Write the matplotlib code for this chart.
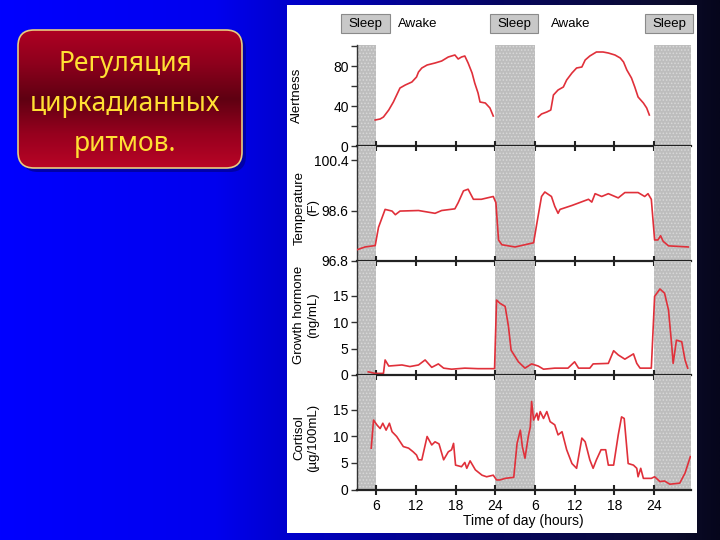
import numpy as np
import matplotlib
matplotlib.use('Agg')
import matplotlib.pyplot as plt
from matplotlib.patches import FancyBboxPatch, Rectangle

# ---------------- data ----------------
title_lines = ["Регуляция", "циркадианных", "ритмов."]
phase_labels = ["Sleep", "Awake", "Sleep", "Awake", "Sleep"]
sleep_spans = [(3.1, 6.0), (24.0, 30.0), (48.0, 53.6)]
xticks = [6, 12, 18, 24, 30, 36, 42, 48]
xtick_labels = ['6', '12', '18', '24', '6', '12', '18', '24']
xlabel = "Time of day (hours)"
ylabels = ["Alertness", "Temperature\n(F)", "Growth hormone\n(ng/mL)", "Cortisol\n(µg/100mL)"]

alert_h1 = [5.85, 6.6, 7.1, 7.9, 8.6, 9.1, 9.6, 10.4, 11.4, 12.1, 12.4, 12.9, 13.7, 14.9,
            15.9, 16.9, 17.9, 18.4, 18.9, 19.4, 19.9, 20.5, 20.9, 21.4, 21.7, 22.5, 23.2, 23.7]
alert_v1 = [26, 27, 29, 36, 44, 51, 58, 61, 64, 69, 74, 78, 81, 83,
            85, 89, 91, 87, 89, 90, 83, 73, 63, 53, 44, 43, 38, 30]
alert_h2 = [30.5, 31.0, 31.8, 32.4, 32.8, 33.5, 34.3, 34.8, 35.6, 36.3, 37.1, 37.6, 38.3,
            39.3, 40.3, 41.1, 42.1, 42.9, 43.4, 43.9, 44.6, 45.1, 45.6, 46.4, 46.9, 47.3]
alert_v2 = [29, 32, 34, 36, 51, 56, 59, 66, 73, 78, 79, 86, 90,
            94, 94, 93, 91, 88, 84, 76, 68, 59, 49, 43, 38, 31]

temp_h = [3.1, 4.3, 5.85, 6.35, 7.35, 8.4, 8.9, 9.6, 12.4, 14.9, 15.9, 17.9, 18.4, 19.2,
          19.9, 20.7, 21.9, 23.7, 24.1, 24.5, 25.0, 27.0, 29.8, 30.3, 31.0, 31.5, 32.5,
          33.0, 33.5, 33.8, 35.6, 38.1, 38.6, 39.1, 40.1, 41.1, 42.6, 43.6, 45.6, 46.6,
          47.1, 47.6, 48.1, 48.6, 49.0, 49.4, 50.2, 53.2]
temp_v = [97.2, 97.3, 97.35, 98.0, 98.64, 98.58, 98.45, 98.58, 98.6, 98.5, 98.6, 98.66,
          98.88, 99.3, 99.36, 99.0, 99.0, 99.1, 98.88, 97.55, 97.38, 97.3, 97.45, 98.15,
          99.1, 99.26, 99.1, 98.75, 98.5, 98.64, 98.78, 99.0, 98.9, 99.2, 99.1, 99.2,
          99.05, 99.24, 99.24, 99.1, 99.2, 99.0, 97.55, 97.55, 97.7, 97.5, 97.34, 97.3]

gh_h = [4.8, 5.85, 7.1, 7.35, 7.9, 9.9, 11.1, 12.4, 13.4, 14.4, 15.4, 16.2, 17.4, 19.4,
        21.4, 23.9, 24.2, 24.7, 25.5, 26.0, 26.4, 27.5, 28.5, 29.5, 30.5, 31.3, 33.0,
        35.0, 36.0, 36.6, 38.3, 38.8, 41.1, 41.9, 42.6, 43.6, 44.9, 45.4, 45.9, 47.6,
        48.1, 48.9, 49.6, 50.2, 50.7, 50.9, 51.4, 52.2, 52.7, 53.1]
gh_v = [0.6, 0.3, 0.3, 2.85, 1.7, 1.9, 1.6, 1.9, 2.85, 1.45, 2.1, 1.3, 1.1, 1.3,
        1.2, 1.2, 14.2, 13.6, 13.0, 9.2, 4.7, 2.5, 1.3, 2.1, 1.7, 1.1, 1.3,
        1.3, 2.5, 1.3, 1.3, 2.1, 2.2, 4.6, 3.8, 3.0, 4.0, 2.2, 1.3, 1.3,
        14.9, 16.3, 15.5, 12.3, 5.4, 2.2, 6.6, 6.3, 2.85, 1.3]

cort_h = [5.25, 5.6, 6.1, 6.6, 7.0, 7.5, 8.0, 8.4, 9.1, 10.1, 10.9, 11.6, 12.1, 12.4,
          12.9, 13.7, 14.4, 14.9, 15.5, 16.2, 16.9, 17.4, 17.7, 18.0, 18.9, 19.4, 19.7,
          20.2, 21.0, 22.0, 22.7, 23.7, 24.2, 24.7, 25.5, 26.8, 27.3, 27.8, 28.1, 28.5,
          29.0, 29.3, 29.5, 29.8, 30.3, 30.5, 30.8, 31.3, 31.8, 32.3, 33.0, 33.5, 34.1,
          34.8, 35.6, 36.3, 37.1, 37.6, 38.3, 38.8, 39.3, 40.0, 40.7, 41.1, 41.9, 42.6,
          43.1, 43.5, 44.1, 44.9, 45.4, 45.6, 46.0, 46.4, 47.6, 48.1, 48.9, 49.6, 50.4,
          51.9, 52.7, 53.5]
cort_v = [7.8, 13.1, 12.2, 11.5, 12.5, 11.2, 12.5, 10.9, 10.0, 8.1, 7.8, 7.1, 6.5, 5.6,
          5.6, 10.0, 8.4, 9.0, 8.6, 5.6, 7.1, 7.5, 8.7, 4.6, 4.3, 5.1, 4.0,
          5.4, 3.7, 2.7, 2.4, 2.7, 1.8, 1.8, 2.1, 2.3, 8.7, 11.2, 8.1, 5.9,
          10.0, 11.8, 16.6, 13.1, 14.4, 13.1, 14.7, 13.4, 14.7, 12.8, 12.2, 10.3, 10.9,
          7.5, 4.9, 4.0, 9.7, 9.0, 5.6, 4.0, 5.6, 7.5, 7.5, 4.6, 4.6, 10.3,
          13.7, 13.4, 4.9, 4.6, 4.0, 2.4, 4.0, 2.1, 2.1, 2.4, 1.5, 1.6, 1.0,
          1.2, 3.1, 6.2]

# ---------------- figure ----------------
W, H = 720, 540
fig = plt.figure(figsize=(7.2, 5.4), dpi=100)
plt.rcParams['font.family'] = ['Liberation Sans', 'DejaVu Sans']
plt.rcParams['hatch.linewidth'] = 0.7

bg = fig.add_axes([0, 0, 1, 1])
bg.set_xlim(0, W)
bg.set_ylim(H, 0)
bg.axis('off')

# slide background gradient (horizontal)
xs = np.linspace(0, 1, 400)
stops = [0.0, 0.30, 0.40, 0.70, 0.93, 1.0]
r = np.interp(xs, stops, [0, 0, 0, 6, 12, 6])
g = np.interp(xs, stops, [0, 0, 0, 6, 12, 6])
b = np.interp(xs, stops, [255, 238, 205, 95, 45, 28])
grad = np.dstack([r, g, b]) / 255.0   # shape (1, 400, 3)
bg.imshow(grad, extent=(0, W, H, 0), aspect='auto', zorder=0)

# white panel
bg.add_patch(Rectangle((287, 5), 410, 528, facecolor='white', edgecolor='none', zorder=1))

# red title box with shadow
shadow = FancyBboxPatch((22, 34), 224, 138, boxstyle="round,pad=0,rounding_size=16",
                        facecolor='#0000a8', edgecolor='none', zorder=1)
bg.add_patch(shadow)
box = FancyBboxPatch((18, 30), 224, 138, boxstyle="round,pad=0,rounding_size=16",
                     facecolor='none', edgecolor='none', zorder=2)
bg.add_patch(box)
ys = np.linspace(0, 1, 200)
ystops = [0.0, 0.25, 0.5, 0.75, 1.0]
rr = np.interp(ys, ystops, [175, 140, 95, 150, 185])
gg = np.interp(ys, ystops, [0, 0, 0, 0, 5])
bb = np.interp(ys, ystops, [35, 28, 18, 30, 38])
vgrad = np.dstack([rr, gg, bb]).reshape(200, 1, 3) / 255.0
im = bg.imshow(vgrad, extent=(18, 242, 168, 30), aspect='auto', zorder=2)
im.set_clip_path(box)
bg.add_patch(FancyBboxPatch((18, 30), 224, 138, boxstyle="round,pad=0,rounding_size=16",
                            facecolor='none', edgecolor='#e8cc80', linewidth=1.2, zorder=3))
for i, line in enumerate(title_lines):
    bg.text(125, 64 + 40 * i, line, color='#ffe033', fontsize=19,
            family=['Noto Sans', 'DejaVu Sans'], ha='center', va='center', zorder=4)

# Sleep / Awake header
sleep_boxes = [(341, 390), (490, 538), (645, 693)]
for (x0, x1) in sleep_boxes:
    bg.add_patch(Rectangle((x0, 14), x1 - x0, 19, facecolor='#c8c8c8',
                           edgecolor='#8a8a8a', linewidth=0.8, zorder=2))
    bg.text((x0 + x1) / 2, 23.5, phase_labels[0], fontsize=9.5, ha='center', va='center', zorder=3)
for xc in (418, 571):
    bg.text(xc, 24, phase_labels[1], fontsize=9.5, ha='center', va='center', zorder=3)

# y labels and x label
label_pos = [(297, 95), (306, 208), (306, 315), (306, 438)]
for (x, y), lab in zip(label_pos, ylabels):
    bg.text(x, y, lab, rotation=90, fontsize=9.5, ha='center', va='center',
            multialignment='center', linespacing=1.15, zorder=3)
bg.text(523, 521, xlabel, fontsize=10, ha='center', va='center', zorder=3)

# ---------------- data axes ----------------
L, Wd = 357 / W, (691 - 357) / W
panels = [(45, 146), (146, 261), (261, 375), (375, 489.5)]
axes = []
for (top, bot) in panels:
    ax = fig.add_axes([L, (H - bot) / H, Wd, (bot - top) / H])
    ax.set_facecolor('none')
    ax.set_xlim(3.1, 53.6)
    for s in ('top', 'right'):
        ax.spines[s].set_visible(False)
    ax.spines['left'].set_linewidth(1.0)
    ax.spines['left'].set_color('#333333')
    ax.spines['bottom'].set_linewidth(1.6)
    ax.spines['bottom'].set_color('#222222')
    ax.spines['bottom'].set_zorder(4)
    for (a, bnd) in sleep_spans:
        ax.axvspan(a, bnd, facecolor='#bdbdbd', edgecolor='#d8d8d8', hatch='.....',
                   linewidth=0, zorder=1)
    ax.set_xticks(xticks)
    ax.tick_params(axis='x', direction='inout', length=7, width=1.5, color='#222222',
                   labelsize=10, pad=3)
    ax.tick_params(axis='y', direction='out', length=4, width=1, color='#333333',
                   labelsize=10, pad=2)
    axes.append(ax)

lc = '#e0303a'
lw = 1.2
a1, a2, a3, a4 = axes
a1.plot(alert_h1, alert_v1, color=lc, lw=lw, zorder=3)
a1.plot(alert_h2, alert_v2, color=lc, lw=lw, zorder=3)
a1.set_ylim(0, 101)
a1.set_yticks([0, 20, 40, 60, 80, 100])
a1.set_yticklabels(['0', '', '40', '', '80', ''])

a2.plot(temp_h, temp_v, color=lc, lw=lw, zorder=3)
a2.set_ylim(96.8, 100.9)
a2.set_yticks([96.8, 98.6, 100.4])
a2.set_yticklabels(['96.8', '98.6', '100.4'])

a3.plot(gh_h, gh_v, color=lc, lw=lw, zorder=3)
a3.set_ylim(0, 21.6)
a3.set_yticks([0, 5, 10, 15])

a4.plot(cort_h, cort_v, color=lc, lw=lw, zorder=3)
a4.set_ylim(0, 21.6)
a4.set_yticks([0, 5, 10, 15])

for ax in axes[:3]:
    ax.set_xticklabels([])
a4.set_xticklabels(xtick_labels)

fig.savefig('out.png', dpi=100)
